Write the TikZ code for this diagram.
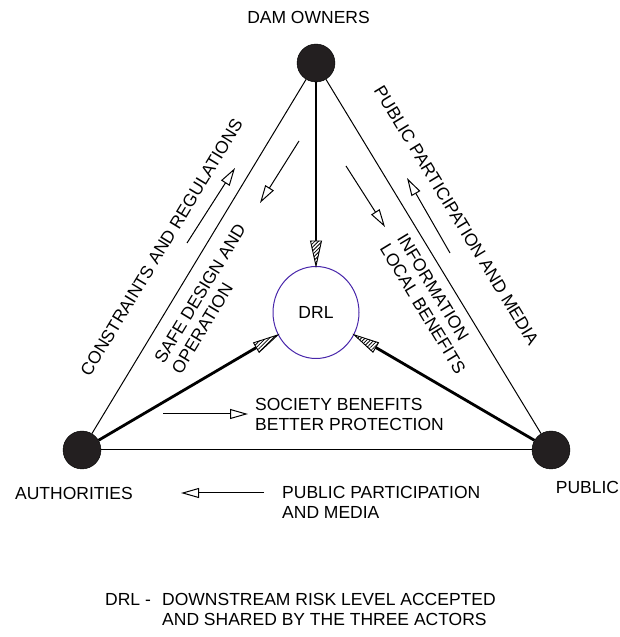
\documentclass[tikz,border=0pt]{standalone}
\usepackage{fontspec}
\setmainfont{Liberation Sans}
\usetikzlibrary{arrows.meta,patterns.meta,shapes.geometric,calc}

\definecolor{dotblack}{RGB}{35,31,32}
\definecolor{drlblue}{RGB}{72,38,170}

\begin{document}
\begin{tikzpicture}[x=1pt,y=1pt,font=\fontsize{17.5}{20}\selectfont,
    actor/.style={circle,fill=dotblack,draw=black,inner sep=0pt,minimum size=38pt},
    txt/.style={inner sep=0pt},
    side/.style={line width=1pt},
    flow/.style={line width=1pt,-{Triangle[open,length=18pt,width=10pt]}},
    feed/.style={line width=2.8pt,shorten >=24pt}]

    \useasboundingbox (0,0) rectangle (620,637);

    % the three actors and the risk level
    \node[actor] (own) at (316,574) {};
    \node[actor] (auth) at (82,187) {};
    \node[actor] (pub) at (551,187) {};
    \node[ellipse,draw=drlblue,line width=1pt,inner sep=0pt,
          minimum width=86pt,minimum height=92pt] (drl) at (316,324.5) {DRL};

    \node[txt] (owntxt) at (308.5,619.5) {DAM OWNERS};
    \node[txt] (authtxt) at (74,144) {AUTHORITIES};
    \node[txt] (pubtxt) at (587.5,150) {PUBLIC};

    % triangle
    \draw[side] (own) -- (auth);
    \draw[side] (own) -- (pub);
    \draw[side] (auth) -- (pub);

    % thick lines towards DRL
    \draw[feed] (own) -- (drl) coordinate[pos=1] (tipT);
    \draw[feed] (auth) -- (drl) coordinate[pos=1] (tipL);
    \draw[feed] (pub) -- (drl) coordinate[pos=1] (tipR);

    \foreach \src/\tip in {own/tipT,auth/tipL,pub/tipR}{
      \coordinate (base) at ($(\tip)!25pt!(\src)$);
      \draw[line width=0.9pt,fill=white,
            postaction={pattern={Lines[angle=45,distance=2.6pt,line width=0.8pt]}}]
        (\tip) -- ($(base)!5.5pt!90:(\tip)$) -- ($(base)!5.5pt!-90:(\tip)$) -- cycle;
    }

    % flows along the sides
    \node[txt,rotate=58.8] (cons) at (161.5,389.5) {CONSTRAINTS AND REGULATIONS};
    \draw[flow] (187,394) -- (235,469);

    \node[txt,rotate=58.8,align=left] (safe) at (208.6,338.3) {SAFE DESIGN AND\\OPERATION};
    \draw[flow] (299,496) -- (260,434);

    \node[txt,rotate=-58.7] (pubmed) at (456.5,421.5) {PUBLIC PARTICIPATION AND MEDIA};
    \draw[flow] (450,384) -- (407,459);

    \node[txt,rotate=-58.7,align=left] (info) at (431.5,333.2) {INFORMATION\\LOCAL BENEFITS};
    \draw[flow] (346,471) -- (385,410);

    \node[txt,anchor=north west,align=left] (soc) at (255,239) {SOCIETY BENEFITS\\BETTER PROTECTION};
    \draw[flow] (163,223) -- (248,223);

    \node[txt,anchor=north west,align=left] (pubpart) at (282,151) {PUBLIC PARTICIPATION\\AND MEDIA};
    \draw[flow] (264,144) -- (181,144);

    % legend
    \node[txt,anchor=north west,align=left] (legend) at (105,44)
      {\makebox[57pt][l]{DRL -}DOWNSTREAM RISK LEVEL ACCEPTED\\
       \hspace*{57pt}AND SHARED BY THE THREE ACTORS};
\end{tikzpicture}
\end{document}
